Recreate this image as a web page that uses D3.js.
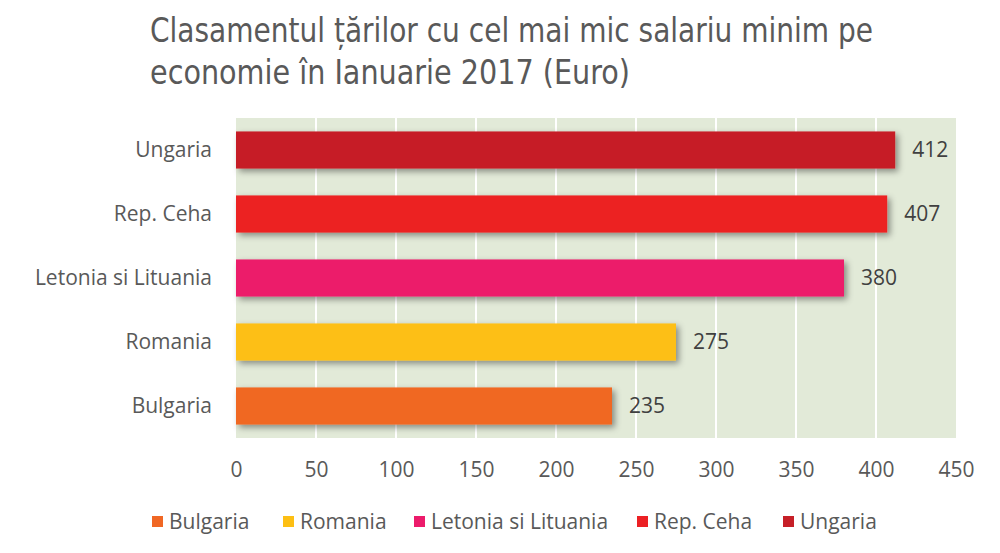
<!DOCTYPE html>
<html><head><meta charset="utf-8">
<script src="https://cdn.jsdelivr.net/npm/d3@7"></script>
<style>body{margin:0;background:#fff}svg{display:block}</style>
</head><body>
<svg id="chart" width="1000" height="553"></svg>
<script>
const categories = ["Ungaria", "Rep. Ceha", "Letonia si Lituania", "Romania", "Bulgaria"];
const values = [412, 407, 380, 275, 235];
const colors = ["#c61f28", "#ec2024", "#ec1b6b", "#fdbf13", "#f06724"];
const legendOrder = ["Bulgaria", "Romania", "Letonia si Lituania", "Rep. Ceha", "Ungaria"];
const xTicks = [0, 50, 100, 150, 200, 250, 300, 350, 400, 450];
const titleLines = ["Clasamentul țărilor cu cel mai mic salariu minim pe", "economie în Ianuarie 2017 (Euro)"];
const titleWidths = [723, 480];

const svg = d3.select("#chart");
const m = {left: 236, right: 956, top: 118, bottom: 438};
const x = d3.scaleLinear().domain([0, 450]).range([m.left, m.right]);
const y = d3.scaleBand().domain(categories).range([m.top, m.bottom]).paddingInner(0.42).paddingOuter(0.21);
const color = d3.scaleOrdinal().domain(categories).range(colors);
const FONT = "'Open Sans', sans-serif";
const FS = 21;

const defs = svg.append("defs");
const f = defs.append("filter").attr("id", "sh").attr("x", "-10%").attr("y", "-50%").attr("width", "130%").attr("height", "220%");
f.append("feDropShadow").attr("dx", 3).attr("dy", 3).attr("stdDeviation", 3).attr("flood-color", "#000").attr("flood-opacity", 0.4);

// title
svg.append("g").selectAll("text").data(titleLines).join("text")
  .attr("x", 150).attr("y", (d, i) => 42 + i * 42)
  .attr("font-family", "'Liberation Sans Narrow','DejaVu Sans Condensed',sans-serif")
  .attr("font-size", 34).attr("fill", "#595959")
  .attr("textLength", (d, i) => titleWidths[i]).attr("lengthAdjust", "spacingAndGlyphs")
  .text(d => d);

// plot background
svg.append("rect").attr("x", m.left).attr("y", m.top).attr("width", m.right - m.left).attr("height", m.bottom - m.top).attr("fill", "#e2ead8");

// grid
svg.append("g").selectAll("line").data(xTicks.slice(1, -1)).join("line")
  .attr("x1", d => x(d)).attr("x2", d => x(d)).attr("y1", m.top).attr("y2", m.bottom)
  .attr("stroke", "#fff").attr("stroke-width", 2);

// x axis
const xa = svg.append("g").attr("transform", `translate(0,${m.bottom})`)
  .call(d3.axisBottom(x).tickValues(xTicks).tickSize(0).tickPadding(24));
xa.select(".domain").remove();
xa.selectAll("text").attr("font-family", FONT).attr("font-size", FS).attr("fill", "#595959");

// y axis
const ya = svg.append("g").attr("transform", `translate(${m.left},0)`)
  .call(d3.axisLeft(y).tickSize(0).tickPadding(24));
ya.select(".domain").remove();
ya.selectAll("text").attr("font-family", FONT).attr("font-size", FS).attr("fill", "#595959");

// bars
svg.append("g").selectAll("rect").data(categories).join("rect")
  .attr("x", x(0)).attr("y", d => y(d)).attr("height", y.bandwidth())
  .attr("width", (d, i) => x(values[i]) - x(0))
  .attr("fill", d => color(d)).attr("filter", "url(#sh)");

// value labels
svg.append("g").selectAll("text").data(categories).join("text")
  .attr("x", (d, i) => x(values[i]) + 17).attr("y", d => y(d) + y.bandwidth() / 2)
  .attr("dy", "0.35em").attr("font-family", FONT).attr("font-size", FS).attr("fill", "#404040")
  .text((d, i) => values[i]);

// legend
const legendX = [152, 283, 414, 637, 783];
const lg = svg.append("g").selectAll("g").data(legendOrder).join("g")
  .attr("transform", (d, i) => `translate(${legendX[i]},522)`);
lg.append("rect").attr("x", 0).attr("y", -6).attr("width", 11).attr("height", 11).attr("fill", d => color(d));
lg.append("text").attr("x", 17).attr("y", 0).attr("dy", "0.35em")
  .attr("font-family", FONT).attr("font-size", FS).attr("fill", "#595959").text(d => d);
</script>
</body></html>
